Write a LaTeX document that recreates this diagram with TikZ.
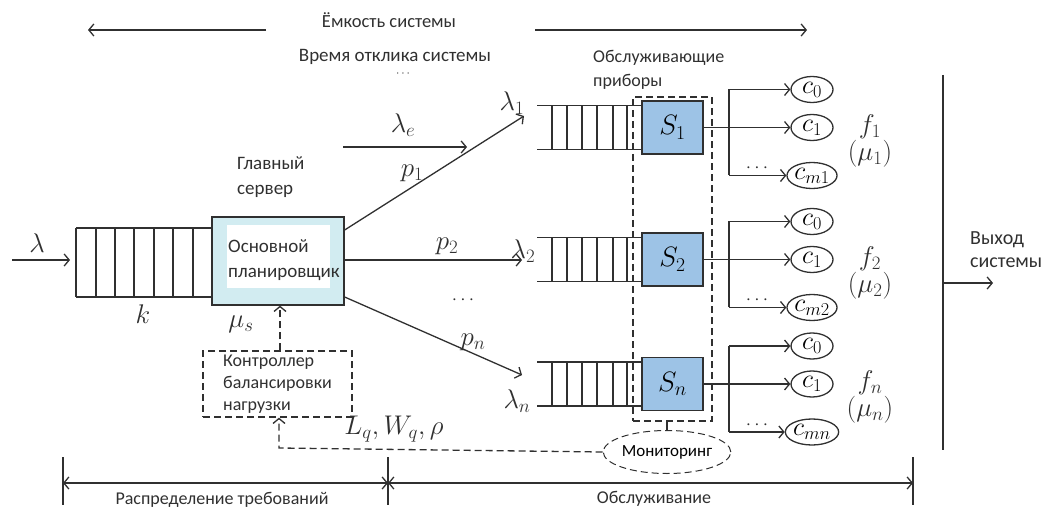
\RequirePackage{fix-cm}
\documentclass[tikz,border=0pt]{standalone}
\usepackage{fontspec}
\setmainfont{Carlito}
\usetikzlibrary{arrows.meta,shapes.geometric}
\definecolor{mainfill}{HTML}{D2ECF1}
\definecolor{srvfill}{HTML}{9DC3E6}
\definecolor{ink}{HTML}{303030}
\begin{document}
\begin{tikzpicture}[x=1pt,y=-1pt,
  ln/.style={line width=1.3pt, draw=ink},
  tip/.tip={Straight Barb[length=5pt,width=12pt,line width=1.3pt]},
  arr/.style={ln, -tip},
  darr/.style={ln, tip-tip},
  dsh/.style={ln, dash pattern=on 7pt off 4pt},
  txt/.style={font=\fontsize{19}{22}\selectfont, inner sep=0pt, text=ink},
  mth/.style={font=\fontsize{27}{30}\selectfont, inner sep=0pt, text=ink},
  cnode/.style={ellipse, ln, minimum width=42pt, minimum height=26pt, inner sep=0pt, font=\fontsize{26}{26}\selectfont},
  srv/.style={rectangle, ln, fill=srvfill, minimum width=61pt, minimum height=53pt, inner sep=0pt, font=\fontsize{28}{30}\selectfont}
]
\useasboundingbox (0,0) rectangle (1051,510);

% top arrows
\node[txt, font=\fontsize{18.5}{20}\selectfont] (cap) at (389,20) {Ёмкость системы};
\coordinate (capL0) at (266,30); \coordinate (capL) at (88,30);
\coordinate (capR0) at (535,30); \coordinate (capR) at (807,30);
\draw[arr] (capL0) -- (capL);
\draw[arr] (capR0) -- (capR);
\node[txt] (resp) at (395,57) {Время отклика системы};
\node[txt, font=\fontsize{12}{12}\selectfont] (topdots) at (403,74) {$\cdots$};

% main server
\node[rectangle, ln, fill=mainfill, minimum width=132pt, minimum height=88pt] (main) at (278,261) {};
\node[rectangle, fill=white, minimum width=103pt, minimum height=63pt, inner sep=0pt] (mainin) at (278.5,256.5) {};
\node[txt, align=left, anchor=west, font=\fontsize{19}{25}\selectfont] (mainlbl) at (228,260) {Основной\\планировщик};
\node[txt, align=left, anchor=west, font=\fontsize{19}{25}\selectfont] (gs) at (237,177) {Главный\\сервер};

% left queue
\draw[ln] (76,228) -- (main.west |- 0,228);
\draw[ln] (76,297) -- (main.west |- 0,297);
\foreach \x in {76,96,115,134,154,173,193} \draw[ln] (\x,228) -- (\x,297);
\coordinate (lin0) at (12,260); \coordinate (lin) at (70,260);
\draw[arr] (lin0) -- (lin);
\node[mth] (lam) at (37,243) {$\lambda$};
\node[mth] (k) at (143,314) {$k$};
\node[mth] (mus) at (241,324) {$\mu_s$};

% lambda_e
\node[mth] (lame) at (403,125) {$\lambda_e$};
\coordinate (le0) at (343,147); \coordinate (le1) at (467,147);
\draw[arr] (le0) -- (le1);

% controller
\node[rectangle, dsh, minimum width=149pt, minimum height=66pt] (ctrl) at (277.5,384) {};
\node[txt, align=left, anchor=west, font=\fontsize{18}{22}\selectfont] (ctrllbl) at (223,384) {Контроллер\\балансировки\\нагрузки};
\draw[dsh, -tip] (ctrl.north -| 280,0) -- (main.south -| 280,0);

% servers
\foreach \i/\cy/\lab/\cm/\fl/\ml in {1/127.5/S_1/c_{m1}/f_1/\mu_1, 2/259.5/S_2/c_{m2}/f_2/\mu_2, 3/384/S_n/c_{mn}/f_n/\mu_n}{
  \draw[ln] (537,\cy-22) -- (642,\cy-22);
  \draw[ln] (537,\cy+22) -- (642,\cy+22);
  \foreach \x in {552,567,582,597,613,627} \draw[ln] (\x,\cy-22) -- (\x,\cy+22);
  \node[srv] (s\i) at (672.5,\cy) {$\lab$};
  \node[cnode] (c0\i) at (812,\cy-38) {$c_0$};
  \node[cnode] (c1\i) at (812,\cy) {$c_1$};
  \node[cnode] (cm\i) at (812,\cy+48) {$\cm$};
  \coordinate (br\i) at (729,\cy);
  \draw[ln] (s\i.east) -- (br\i);
  \draw[ln] (729,\cy-38) -- (729,\cy+48);
  \draw[arr] (br\i) -- (c1\i.west);
  \draw[arr] (729,\cy-38) -- (c0\i.west);
  \draw[arr] (729,\cy+48) -- (cm\i.west);
  \node[txt] (dd\i) at (757,\cy+41) {$\cdots$};
  \node[mth] (f\i) at (870,\cy-1) {$\fl$};
  \node[mth] (m\i) at (870,\cy+26) {$(\ml)$};
}

% routing arrows
\coordinate (q1in) at (524,116);
\coordinate (q2in) at (522,260);
\coordinate (q3in) at (522,375);
\draw[arr] (main.east |- 0,230) -- (q1in);
\draw[arr] (main.east |- 0,260) -- (q2in);
\draw[arr] (main.east |- 0,297) -- (q3in);
\node[mth] (l1) at (512,103) {$\lambda_1$};
\node[mth] (l2) at (523,251) {$\lambda_2$};
\node[mth] (ln3) at (517,401) {$\lambda_n$};
\node[mth] (p1) at (412,173) {$p_1$};
\node[mth] (p2) at (447,246) {$p_2$};
\node[mth] (pn) at (473,342) {$p_n$};
\node[txt] (mdots) at (463,300) {$\cdots$};

% monitoring
\node[txt, align=left, anchor=west, font=\fontsize{18}{24}\selectfont] (obsl) at (593,70) {Обслуживающие\\приборы};
\node[rectangle, dsh, minimum width=79pt, minimum height=324pt] (grp) at (672.5,259) {};
\node[ellipse, dsh, line width=1pt, minimum width=110pt, minimum height=43pt, inner sep=0pt, font=\fontsize{17}{18}\selectfont] (mon) at (667,452) {Мониторинг};
\draw[ln] (grp.south -| mon.north) -- (mon.north);
\coordinate (fbc) at (279,448);
\draw[dsh, -tip] (mon.west) -- (fbc) -- (ctrl.south -| fbc);
\node[mth] (lq) at (394,429) {$L_q, W_q, \rho$};

% output
\coordinate (outT) at (943,75); \coordinate (outB) at (943,450);
\draw[ln] (outT) -- (outB);
\coordinate (out0) at (943,283); \coordinate (out1) at (993,283);
\draw[arr] (out0) -- (out1);
\node[txt, align=left, anchor=west, font=\fontsize{20}{23}\selectfont] (outlbl) at (970,250) {Выход\\системы};

% bottom dimension
\coordinate (t1a) at (63,457); \coordinate (t1b) at (63,505);
\coordinate (t2a) at (388,457); \coordinate (t2b) at (388,505);
\coordinate (t3a) at (913,457); \coordinate (t3b) at (913,505);
\draw[ln] (t1a) -- (t1b); \draw[ln] (t2a) -- (t2b); \draw[ln] (t3a) -- (t3b);
\coordinate (d1) at (63,483); \coordinate (d2) at (388,483); \coordinate (d3) at (913,483);
\draw[darr] (d1) -- (d2);
\draw[darr] (d2) -- (d3);
\node[txt, font=\fontsize{18}{20}\selectfont] (dist) at (222,500) {Распределение требований};
\node[txt, font=\fontsize{18}{20}\selectfont] (serv) at (654,499) {Обслуживание};
\end{tikzpicture}
\end{document}
